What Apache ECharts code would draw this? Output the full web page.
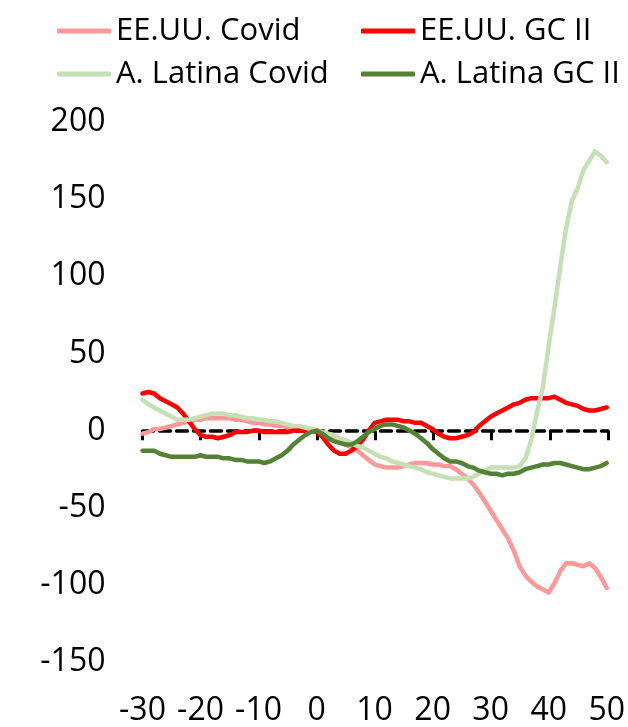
<!DOCTYPE html>
<html>
<head>
<meta charset="utf-8">
<script src="https://cdn.jsdelivr.net/npm/echarts@6/dist/echarts.min.js"></script>
<style>
html,body{margin:0;padding:0;background:#fff;}
#chart{width:628px;height:727px;}
</style>
</head>
<body>
<div id="chart"></div>
<script>
// Days relative to event
var days = [];
for (var d = -30; d <= 50; d++) days.push(d);

var xTicks = [-30, -20, -10, 0, 10, 20, 30, 40, 50];
var yTicks = [-150, -100, -50, 0, 50, 100, 150, 200];

var seriesNames = ['EE.UU. Covid', 'EE.UU. GC II', 'A. Latina Covid', 'A. Latina GC II'];

var usCovid = [-2,-1,1,1,2,3,4,5,6,7,7,8,8,8,8,8,7,7,6,5,5,4,4,3,3,2,2,1,1,1,
  0,-1,-3,-5,-7,-9,-11,-13,-16,-19,-22,-23,-24,-24,-24,-23,-22,-21,-21,-21,
  -22,-22,-23,-23,-25,-28,-31,-35,-40,-46,-52,-58,-64,-70,-78,-88,-94,-98,-101,-103,
  -105,-99,-91,-86,-86,-87,-88,-86,-89,-95,-102];

var usGC = [24,25,24,21,19,17,15,11,6,1,-3,-4,-4,-5,-4,-3,-1,-1,-1,0,0,-1,-1,-1,-1,-1,0,0,0,0,
  -1,-4,-9,-13,-15,-15,-13,-10,-6,0,5,6,7,7,7,6,6,5,5,3,
  1,-2,-4,-5,-5,-4,-3,-1,3,6,9,11,13,15,17,18,20,21,21,21,
  21,22,20,18,17,16,14,13,13,14,15];

var laCovid = [20,17,15,13,11,9,7,7,7,8,9,10,11,11,11,10,10,9,8,8,7,7,6,6,5,4,3,3,2,1,
  0,-1,-2,-3,-5,-6,-8,-10,-11,-13,-15,-17,-18,-20,-21,-22,-23,-24,-25,-27,
  -28,-29,-30,-31,-31,-31,-31,-30,-28,-26,-24,-24,-24,-24,-24,-23,-18,-6,12,28,
  55,80,106,131,149,157,169,175,181,178,174];

var laGC = [-13,-13,-13,-15,-16,-17,-17,-17,-17,-17,-16,-17,-17,-17,-18,-18,-19,-19,-20,-20,-20,-21,-20,-18,-16,-13,-9,-6,-3,-1,
  0,-2,-5,-7,-8,-9,-9,-7,-4,-1,1,3,4,4,3,2,0,-2,-5,-8,
  -12,-15,-18,-20,-20,-21,-23,-24,-26,-27,-28,-28,-29,-28,-28,-27,-25,-24,-23,-22,
  -22,-21,-21,-22,-23,-24,-25,-25,-24,-23,-21];

var seriesValues = [usCovid, usGC, laCovid, laGC];
var seriesColors = ['#FF9999', '#FF0000', '#C5E0B4', '#548235'];

var FONT = '"Open Sans", "Liberation Sans", sans-serif';

function pairs(vals) {
  return days.map(function (d, i) { return [d, vals[i]]; });
}

var chart = echarts.init(document.getElementById('chart'), null, {renderer: 'canvas'});

// plot area geometry
var gridTop = 122, gridBottom = 64, gridLeft = 142.5, gridRight = 20, H = 727;
var yMin = yTicks[0], yMax = yTicks[yTicks.length - 1];
// distance from chart bottom to the value-0 row of the main grid
var zeroFromBottom = gridBottom + (H - gridTop - gridBottom) * (0 - yMin) / (yMax - yMin);

var series = seriesNames.map(function (name, i) {
  return {
    name: name,
    type: 'line',
    xAxisIndex: 0,
    yAxisIndex: 0,
    data: pairs(seriesValues[i]),
    showSymbol: false,
    symbol: 'none',
    smooth: false,
    lineStyle: {color: seriesColors[i], width: 4.5, cap: 'round', join: 'round'},
    itemStyle: {color: seriesColors[i]},
    z: 2 + i
  };
});

var legendCommon = {
  orient: 'vertical',
  top: 9,
  icon: 'roundRect',
  itemWidth: 54,
  itemHeight: 5,
  itemGap: 9,
  textStyle: {fontFamily: FONT, fontSize: 31, color: '#000', lineHeight: 34}
};

var option = {
  animation: false,
  backgroundColor: '#fff',
  legend: [
    Object.assign({}, legendCommon, {left: 52, data: [seriesNames[0], seriesNames[2]]}),
    Object.assign({}, legendCommon, {left: 356, data: [seriesNames[1], seriesNames[3]]})
  ],
  grid: [
    {left: gridLeft, right: gridRight, top: gridTop, bottom: gridBottom},
    {left: gridLeft, right: gridRight, top: gridTop, bottom: zeroFromBottom}
  ],
  xAxis: [
    {
      gridIndex: 0,
      type: 'value',
      position: 'bottom',
      min: xTicks[0],
      max: xTicks[xTicks.length - 1],
      interval: 10,
      axisLine: {show: false, onZero: false},
      axisTick: {show: false},
      splitLine: {show: false},
      axisLabel: {fontFamily: FONT, fontSize: 32, color: '#000', margin: 33}
    },
    {
      gridIndex: 1,
      type: 'value',
      position: 'top',
      min: xTicks[0],
      max: xTicks[xTicks.length - 1],
      interval: 10,
      axisLine: {show: true, onZero: true, lineStyle: {color: '#000', width: 3.5, type: [11, 6]}},
      axisTick: {show: true, inside: true, length: 9, lineStyle: {color: '#000', width: 3}},
      splitLine: {show: false},
      axisLabel: {show: false}
    }
  ],
  yAxis: [
    {
      gridIndex: 0,
      type: 'value',
      min: yMin,
      max: yMax,
      interval: 50,
      axisLine: {show: false},
      axisTick: {show: false},
      splitLine: {show: false},
      axisLabel: {fontFamily: FONT, fontSize: 32, color: '#000', margin: 37}
    },
    {
      gridIndex: 1,
      type: 'value',
      show: false,
      min: 0,
      max: 1
    }
  ],
  series: series
};

chart.setOption(option);
</script>
</body>
</html>
